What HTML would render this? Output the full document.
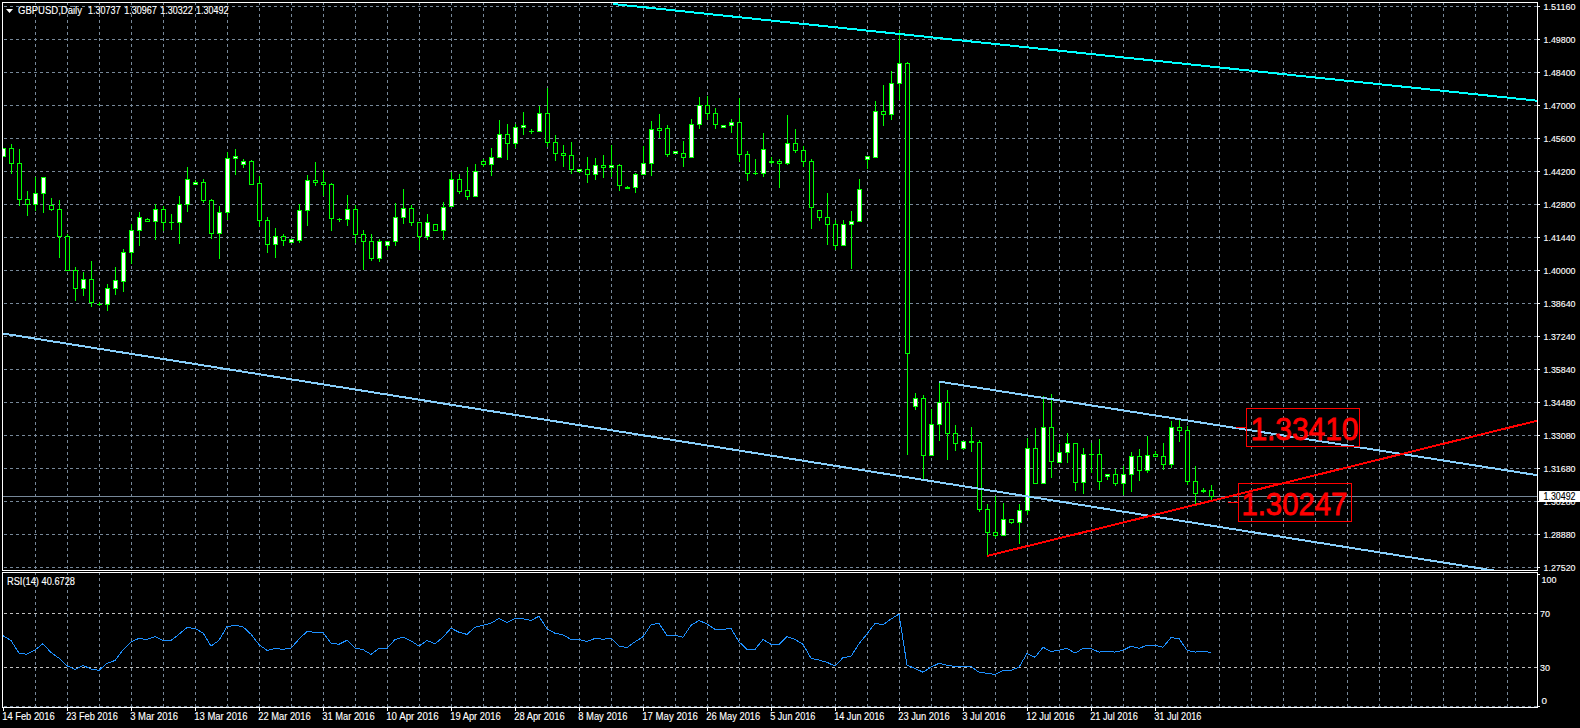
<!DOCTYPE html><html><head><meta charset="utf-8"><style>html,body{margin:0;padding:0;background:#000;width:1580px;height:728px;overflow:hidden}svg{display:block;position:absolute;left:0;top:0}text{font-family:"Liberation Sans",sans-serif;fill:#fff;stroke:#fff;stroke-width:0.12px}</style></head><body>
<svg width="1580" height="728" viewBox="0 0 1580 728" shape-rendering="crispEdges">
<rect x="0" y="0" width="1580" height="728" fill="#000"/>
<defs><clipPath id="cm"><rect x="3" y="3" width="1534" height="567"/></clipPath><clipPath id="cr"><rect x="3" y="573" width="1534" height="134"/></clipPath></defs>
<path d="M35.5 2V570 M67.5 2V570 M99.5 2V570 M131.5 2V570 M163.5 2V570 M195.5 2V570 M227.5 2V570 M259.5 2V570 M291.5 2V570 M323.5 2V570 M355.5 2V570 M387.5 2V570 M419.5 2V570 M451.5 2V570 M483.5 2V570 M515.5 2V570 M547.5 2V570 M579.5 2V570 M611.5 2V570 M643.5 2V570 M675.5 2V570 M707.5 2V570 M739.5 2V570 M771.5 2V570 M803.5 2V570 M835.5 2V570 M867.5 2V570 M899.5 2V570 M931.5 2V570 M963.5 2V570 M995.5 2V570 M1027.5 2V570 M1059.5 2V570 M1091.5 2V570 M1123.5 2V570 M1155.5 2V570 M1187.5 2V570 M1219.5 2V570 M1251.5 2V570 M1283.5 2V570 M1315.5 2V570 M1347.5 2V570 M1379.5 2V570 M1411.5 2V570 M1443.5 2V570 M1475.5 2V570 M1507.5 2V570 M4 6.5H1537 M4 39.5H1537 M4 72.5H1537 M4 105.5H1537 M4 138.5H1537 M4 171.5H1537 M4 204.5H1537 M4 237.5H1537 M4 270.5H1537 M4 303.5H1537 M4 336.5H1537 M4 369.5H1537 M4 402.5H1537 M4 435.5H1537 M4 468.5H1537 M4 501.5H1537 M4 534.5H1537 M4 567.5H1537" stroke="#778899" stroke-width="1" stroke-dasharray="3 3" fill="none"/>
<path d="M35.5 572V707 M67.5 572V707 M99.5 572V707 M131.5 572V707 M163.5 572V707 M195.5 572V707 M227.5 572V707 M259.5 572V707 M291.5 572V707 M323.5 572V707 M355.5 572V707 M387.5 572V707 M419.5 572V707 M451.5 572V707 M483.5 572V707 M515.5 572V707 M547.5 572V707 M579.5 572V707 M611.5 572V707 M643.5 572V707 M675.5 572V707 M707.5 572V707 M739.5 572V707 M771.5 572V707 M803.5 572V707 M835.5 572V707 M867.5 572V707 M899.5 572V707 M931.5 572V707 M963.5 572V707 M995.5 572V707 M1027.5 572V707 M1059.5 572V707 M1091.5 572V707 M1123.5 572V707 M1155.5 572V707 M1187.5 572V707 M1219.5 572V707 M1251.5 572V707 M1283.5 572V707 M1315.5 572V707 M1347.5 572V707 M1379.5 572V707 M1411.5 572V707 M1443.5 572V707 M1475.5 572V707 M1507.5 572V707 M4 706.5H1537" stroke="#778899" stroke-width="1" stroke-dasharray="3 3" fill="none"/>
<path d="M4 613.5H1537M4 667.5H1537" stroke="#c0c0c0" stroke-width="1" stroke-dasharray="3 3" fill="none"/>
<rect x="3" y="496" width="1534" height="1" fill="#778899"/>
<g clip-path="url(#cm)"><rect x="3" y="148" width="1" height="9" fill="#00ff00"/><rect x="1" y="148" width="5" height="9" fill="#00ff00"/><rect x="2" y="149" width="3" height="7" fill="#fff"/><rect x="11" y="144" width="1" height="30" fill="#00ff00"/><rect x="9" y="148" width="5" height="16" fill="#00ff00"/><rect x="10" y="149" width="3" height="14" fill="#000"/><rect x="19" y="149" width="1" height="57" fill="#00ff00"/><rect x="17" y="163" width="5" height="37" fill="#00ff00"/><rect x="18" y="164" width="3" height="35" fill="#000"/><rect x="27" y="191" width="1" height="25" fill="#00ff00"/><rect x="25" y="199" width="5" height="6" fill="#00ff00"/><rect x="26" y="200" width="3" height="4" fill="#000"/><rect x="35" y="177" width="1" height="34" fill="#00ff00"/><rect x="33" y="193" width="5" height="12" fill="#00ff00"/><rect x="34" y="194" width="3" height="10" fill="#fff"/><rect x="43" y="177" width="1" height="36" fill="#00ff00"/><rect x="41" y="177" width="5" height="17" fill="#00ff00"/><rect x="42" y="178" width="3" height="15" fill="#fff"/><rect x="51" y="198" width="1" height="13" fill="#00ff00"/><rect x="49" y="205" width="5" height="5" fill="#00ff00"/><rect x="50" y="206" width="3" height="3" fill="#000"/><rect x="59" y="200" width="1" height="58" fill="#00ff00"/><rect x="57" y="209" width="5" height="28" fill="#00ff00"/><rect x="58" y="210" width="3" height="26" fill="#000"/><rect x="67" y="234" width="1" height="37" fill="#00ff00"/><rect x="65" y="236" width="5" height="35" fill="#00ff00"/><rect x="66" y="237" width="3" height="33" fill="#000"/><rect x="75" y="267" width="1" height="34" fill="#00ff00"/><rect x="73" y="270" width="5" height="19" fill="#00ff00"/><rect x="74" y="271" width="3" height="17" fill="#000"/><rect x="83" y="272" width="1" height="24" fill="#00ff00"/><rect x="81" y="279" width="5" height="10" fill="#00ff00"/><rect x="82" y="280" width="3" height="8" fill="#fff"/><rect x="91" y="261" width="1" height="46" fill="#00ff00"/><rect x="89" y="279" width="5" height="24" fill="#00ff00"/><rect x="90" y="280" width="3" height="22" fill="#000"/><rect x="99" y="302" width="1" height="4" fill="#00ff00"/><rect x="97" y="304" width="5" height="1" fill="#00ff00"/><rect x="107" y="284" width="1" height="27" fill="#00ff00"/><rect x="105" y="288" width="5" height="17" fill="#00ff00"/><rect x="106" y="289" width="3" height="15" fill="#fff"/><rect x="115" y="267" width="1" height="28" fill="#00ff00"/><rect x="113" y="280" width="5" height="9" fill="#00ff00"/><rect x="114" y="281" width="3" height="7" fill="#fff"/><rect x="123" y="249" width="1" height="43" fill="#00ff00"/><rect x="121" y="252" width="5" height="30" fill="#00ff00"/><rect x="122" y="253" width="3" height="28" fill="#fff"/><rect x="131" y="224" width="1" height="40" fill="#00ff00"/><rect x="129" y="230" width="5" height="23" fill="#00ff00"/><rect x="130" y="231" width="3" height="21" fill="#fff"/><rect x="139" y="212" width="1" height="34" fill="#00ff00"/><rect x="137" y="217" width="5" height="14" fill="#00ff00"/><rect x="138" y="218" width="3" height="12" fill="#fff"/><rect x="147" y="218" width="1" height="4" fill="#00ff00"/><rect x="145" y="219" width="5" height="3" fill="#00ff00"/><rect x="146" y="220" width="3" height="1" fill="#000"/><rect x="155" y="204" width="1" height="36" fill="#00ff00"/><rect x="153" y="209" width="5" height="13" fill="#00ff00"/><rect x="154" y="210" width="3" height="11" fill="#fff"/><rect x="163" y="206" width="1" height="25" fill="#00ff00"/><rect x="161" y="209" width="5" height="14" fill="#00ff00"/><rect x="162" y="210" width="3" height="12" fill="#000"/><rect x="171" y="214" width="1" height="16" fill="#00ff00"/><rect x="169" y="222" width="5" height="1" fill="#00ff00"/><rect x="179" y="196" width="1" height="48" fill="#00ff00"/><rect x="177" y="204" width="5" height="19" fill="#00ff00"/><rect x="178" y="205" width="3" height="17" fill="#fff"/><rect x="187" y="167" width="1" height="45" fill="#00ff00"/><rect x="185" y="179" width="5" height="26" fill="#00ff00"/><rect x="186" y="180" width="3" height="24" fill="#fff"/><rect x="195" y="180" width="1" height="5" fill="#00ff00"/><rect x="193" y="182" width="5" height="3" fill="#00ff00"/><rect x="194" y="183" width="3" height="1" fill="#fff"/><rect x="203" y="179" width="1" height="24" fill="#00ff00"/><rect x="201" y="182" width="5" height="19" fill="#00ff00"/><rect x="202" y="183" width="3" height="17" fill="#000"/><rect x="211" y="199" width="1" height="40" fill="#00ff00"/><rect x="209" y="200" width="5" height="34" fill="#00ff00"/><rect x="210" y="201" width="3" height="32" fill="#000"/><rect x="219" y="206" width="1" height="53" fill="#00ff00"/><rect x="217" y="212" width="5" height="22" fill="#00ff00"/><rect x="218" y="213" width="3" height="20" fill="#fff"/><rect x="227" y="152" width="1" height="68" fill="#00ff00"/><rect x="225" y="158" width="5" height="55" fill="#00ff00"/><rect x="226" y="159" width="3" height="53" fill="#fff"/><rect x="235" y="149" width="1" height="26" fill="#00ff00"/><rect x="233" y="156" width="5" height="3" fill="#00ff00"/><rect x="234" y="157" width="3" height="1" fill="#fff"/><rect x="243" y="159" width="1" height="9" fill="#00ff00"/><rect x="241" y="161" width="5" height="4" fill="#00ff00"/><rect x="242" y="162" width="3" height="2" fill="#fff"/><rect x="251" y="160" width="1" height="25" fill="#00ff00"/><rect x="249" y="161" width="5" height="24" fill="#00ff00"/><rect x="250" y="162" width="3" height="22" fill="#000"/><rect x="259" y="176" width="1" height="51" fill="#00ff00"/><rect x="257" y="183" width="5" height="38" fill="#00ff00"/><rect x="258" y="184" width="3" height="36" fill="#000"/><rect x="267" y="217" width="1" height="36" fill="#00ff00"/><rect x="265" y="220" width="5" height="25" fill="#00ff00"/><rect x="266" y="221" width="3" height="23" fill="#000"/><rect x="275" y="228" width="1" height="30" fill="#00ff00"/><rect x="273" y="236" width="5" height="9" fill="#00ff00"/><rect x="274" y="237" width="3" height="7" fill="#fff"/><rect x="283" y="234" width="1" height="12" fill="#00ff00"/><rect x="281" y="236" width="5" height="5" fill="#00ff00"/><rect x="282" y="237" width="3" height="3" fill="#000"/><rect x="291" y="239" width="1" height="4" fill="#00ff00"/><rect x="289" y="239" width="5" height="4" fill="#00ff00"/><rect x="290" y="240" width="3" height="2" fill="#fff"/><rect x="299" y="204" width="1" height="39" fill="#00ff00"/><rect x="297" y="210" width="5" height="31" fill="#00ff00"/><rect x="298" y="211" width="3" height="29" fill="#fff"/><rect x="307" y="175" width="1" height="51" fill="#00ff00"/><rect x="305" y="180" width="5" height="31" fill="#00ff00"/><rect x="306" y="181" width="3" height="29" fill="#fff"/><rect x="315" y="162" width="1" height="24" fill="#00ff00"/><rect x="313" y="180" width="5" height="3" fill="#00ff00"/><rect x="314" y="181" width="3" height="1" fill="#000"/><rect x="323" y="170" width="1" height="26" fill="#00ff00"/><rect x="321" y="182" width="5" height="3" fill="#00ff00"/><rect x="322" y="183" width="3" height="1" fill="#000"/><rect x="331" y="183" width="1" height="48" fill="#00ff00"/><rect x="329" y="184" width="5" height="35" fill="#00ff00"/><rect x="330" y="185" width="3" height="33" fill="#000"/><rect x="339" y="218" width="1" height="4" fill="#00ff00"/><rect x="337" y="219" width="5" height="1" fill="#00ff00"/><rect x="347" y="195" width="1" height="31" fill="#00ff00"/><rect x="345" y="209" width="5" height="11" fill="#00ff00"/><rect x="346" y="210" width="3" height="9" fill="#fff"/><rect x="355" y="205" width="1" height="38" fill="#00ff00"/><rect x="353" y="209" width="5" height="26" fill="#00ff00"/><rect x="354" y="210" width="3" height="24" fill="#000"/><rect x="363" y="230" width="1" height="40" fill="#00ff00"/><rect x="361" y="234" width="5" height="8" fill="#00ff00"/><rect x="362" y="235" width="3" height="6" fill="#000"/><rect x="371" y="234" width="1" height="27" fill="#00ff00"/><rect x="369" y="241" width="5" height="18" fill="#00ff00"/><rect x="370" y="242" width="3" height="16" fill="#000"/><rect x="379" y="239" width="1" height="23" fill="#00ff00"/><rect x="377" y="241" width="5" height="18" fill="#00ff00"/><rect x="378" y="242" width="3" height="16" fill="#fff"/><rect x="387" y="241" width="1" height="9" fill="#00ff00"/><rect x="385" y="241" width="5" height="5" fill="#00ff00"/><rect x="386" y="242" width="3" height="3" fill="#fff"/><rect x="395" y="203" width="1" height="43" fill="#00ff00"/><rect x="393" y="217" width="5" height="25" fill="#00ff00"/><rect x="394" y="218" width="3" height="23" fill="#fff"/><rect x="403" y="189" width="1" height="35" fill="#00ff00"/><rect x="401" y="208" width="5" height="10" fill="#00ff00"/><rect x="402" y="209" width="3" height="8" fill="#fff"/><rect x="411" y="205" width="1" height="21" fill="#00ff00"/><rect x="409" y="208" width="5" height="15" fill="#00ff00"/><rect x="410" y="209" width="3" height="13" fill="#000"/><rect x="419" y="222" width="1" height="28" fill="#00ff00"/><rect x="417" y="222" width="5" height="15" fill="#00ff00"/><rect x="418" y="223" width="3" height="13" fill="#000"/><rect x="427" y="214" width="1" height="26" fill="#00ff00"/><rect x="425" y="222" width="5" height="15" fill="#00ff00"/><rect x="426" y="223" width="3" height="13" fill="#fff"/><rect x="435" y="224" width="1" height="7" fill="#00ff00"/><rect x="433" y="224" width="5" height="7" fill="#00ff00"/><rect x="434" y="225" width="3" height="5" fill="#000"/><rect x="443" y="202" width="1" height="38" fill="#00ff00"/><rect x="441" y="207" width="5" height="24" fill="#00ff00"/><rect x="442" y="208" width="3" height="22" fill="#fff"/><rect x="451" y="172" width="1" height="35" fill="#00ff00"/><rect x="449" y="179" width="5" height="28" fill="#00ff00"/><rect x="450" y="180" width="3" height="26" fill="#fff"/><rect x="459" y="174" width="1" height="20" fill="#00ff00"/><rect x="457" y="179" width="5" height="13" fill="#00ff00"/><rect x="458" y="180" width="3" height="11" fill="#000"/><rect x="467" y="167" width="1" height="33" fill="#00ff00"/><rect x="465" y="190" width="5" height="7" fill="#00ff00"/><rect x="466" y="191" width="3" height="5" fill="#000"/><rect x="475" y="164" width="1" height="33" fill="#00ff00"/><rect x="473" y="171" width="5" height="26" fill="#00ff00"/><rect x="474" y="172" width="3" height="24" fill="#fff"/><rect x="483" y="159" width="1" height="8" fill="#00ff00"/><rect x="481" y="161" width="5" height="4" fill="#00ff00"/><rect x="482" y="162" width="3" height="2" fill="#000"/><rect x="491" y="148" width="1" height="28" fill="#00ff00"/><rect x="489" y="157" width="5" height="8" fill="#00ff00"/><rect x="490" y="158" width="3" height="6" fill="#fff"/><rect x="499" y="120" width="1" height="38" fill="#00ff00"/><rect x="497" y="134" width="5" height="24" fill="#00ff00"/><rect x="498" y="135" width="3" height="22" fill="#fff"/><rect x="507" y="124" width="1" height="36" fill="#00ff00"/><rect x="505" y="134" width="5" height="10" fill="#00ff00"/><rect x="506" y="135" width="3" height="8" fill="#000"/><rect x="515" y="124" width="1" height="24" fill="#00ff00"/><rect x="513" y="127" width="5" height="17" fill="#00ff00"/><rect x="514" y="128" width="3" height="15" fill="#fff"/><rect x="523" y="112" width="1" height="23" fill="#00ff00"/><rect x="521" y="125" width="5" height="3" fill="#00ff00"/><rect x="522" y="126" width="3" height="1" fill="#fff"/><rect x="531" y="129" width="1" height="5" fill="#00ff00"/><rect x="529" y="131" width="5" height="1" fill="#00ff00"/><rect x="539" y="106" width="1" height="26" fill="#00ff00"/><rect x="537" y="113" width="5" height="19" fill="#00ff00"/><rect x="538" y="114" width="3" height="17" fill="#fff"/><rect x="547" y="88" width="1" height="59" fill="#00ff00"/><rect x="545" y="113" width="5" height="30" fill="#00ff00"/><rect x="546" y="114" width="3" height="28" fill="#000"/><rect x="555" y="135" width="1" height="26" fill="#00ff00"/><rect x="553" y="142" width="5" height="12" fill="#00ff00"/><rect x="554" y="143" width="3" height="10" fill="#000"/><rect x="563" y="145" width="1" height="22" fill="#00ff00"/><rect x="561" y="153" width="5" height="3" fill="#00ff00"/><rect x="562" y="154" width="3" height="1" fill="#000"/><rect x="571" y="142" width="1" height="32" fill="#00ff00"/><rect x="569" y="155" width="5" height="15" fill="#00ff00"/><rect x="570" y="156" width="3" height="13" fill="#000"/><rect x="579" y="169" width="1" height="4" fill="#00ff00"/><rect x="577" y="169" width="5" height="3" fill="#00ff00"/><rect x="578" y="170" width="3" height="1" fill="#fff"/><rect x="587" y="157" width="1" height="26" fill="#00ff00"/><rect x="585" y="169" width="5" height="6" fill="#00ff00"/><rect x="586" y="170" width="3" height="4" fill="#000"/><rect x="595" y="158" width="1" height="22" fill="#00ff00"/><rect x="593" y="165" width="5" height="10" fill="#00ff00"/><rect x="594" y="166" width="3" height="8" fill="#fff"/><rect x="603" y="155" width="1" height="23" fill="#00ff00"/><rect x="601" y="165" width="5" height="3" fill="#00ff00"/><rect x="602" y="166" width="3" height="1" fill="#000"/><rect x="611" y="145" width="1" height="32" fill="#00ff00"/><rect x="609" y="165" width="5" height="3" fill="#00ff00"/><rect x="610" y="166" width="3" height="1" fill="#fff"/><rect x="619" y="164" width="1" height="27" fill="#00ff00"/><rect x="617" y="165" width="5" height="21" fill="#00ff00"/><rect x="618" y="166" width="3" height="19" fill="#000"/><rect x="627" y="186" width="1" height="3" fill="#00ff00"/><rect x="625" y="187" width="5" height="2" fill="#00ff00"/><rect x="635" y="173" width="1" height="20" fill="#00ff00"/><rect x="633" y="174" width="5" height="14" fill="#00ff00"/><rect x="634" y="175" width="3" height="12" fill="#fff"/><rect x="643" y="146" width="1" height="29" fill="#00ff00"/><rect x="641" y="163" width="5" height="12" fill="#00ff00"/><rect x="642" y="164" width="3" height="10" fill="#fff"/><rect x="651" y="121" width="1" height="55" fill="#00ff00"/><rect x="649" y="129" width="5" height="35" fill="#00ff00"/><rect x="650" y="130" width="3" height="33" fill="#fff"/><rect x="659" y="114" width="1" height="24" fill="#00ff00"/><rect x="657" y="128" width="5" height="3" fill="#00ff00"/><rect x="658" y="129" width="3" height="1" fill="#000"/><rect x="667" y="125" width="1" height="32" fill="#00ff00"/><rect x="665" y="128" width="5" height="27" fill="#00ff00"/><rect x="666" y="129" width="3" height="25" fill="#000"/><rect x="675" y="151" width="1" height="3" fill="#00ff00"/><rect x="673" y="151" width="5" height="3" fill="#00ff00"/><rect x="674" y="152" width="3" height="1" fill="#fff"/><rect x="683" y="141" width="1" height="26" fill="#00ff00"/><rect x="681" y="153" width="5" height="5" fill="#00ff00"/><rect x="682" y="154" width="3" height="3" fill="#000"/><rect x="691" y="119" width="1" height="39" fill="#00ff00"/><rect x="689" y="124" width="5" height="34" fill="#00ff00"/><rect x="690" y="125" width="3" height="32" fill="#fff"/><rect x="699" y="97" width="1" height="32" fill="#00ff00"/><rect x="697" y="105" width="5" height="20" fill="#00ff00"/><rect x="698" y="106" width="3" height="18" fill="#fff"/><rect x="707" y="96" width="1" height="24" fill="#00ff00"/><rect x="705" y="105" width="5" height="9" fill="#00ff00"/><rect x="706" y="106" width="3" height="7" fill="#000"/><rect x="715" y="108" width="1" height="21" fill="#00ff00"/><rect x="713" y="113" width="5" height="12" fill="#00ff00"/><rect x="714" y="114" width="3" height="10" fill="#000"/><rect x="723" y="125" width="1" height="3" fill="#00ff00"/><rect x="721" y="125" width="5" height="3" fill="#00ff00"/><rect x="722" y="126" width="3" height="1" fill="#fff"/><rect x="731" y="119" width="1" height="14" fill="#00ff00"/><rect x="729" y="122" width="5" height="4" fill="#00ff00"/><rect x="730" y="123" width="3" height="2" fill="#fff"/><rect x="739" y="98" width="1" height="64" fill="#00ff00"/><rect x="737" y="122" width="5" height="33" fill="#00ff00"/><rect x="738" y="123" width="3" height="31" fill="#000"/><rect x="747" y="151" width="1" height="30" fill="#00ff00"/><rect x="745" y="154" width="5" height="20" fill="#00ff00"/><rect x="746" y="155" width="3" height="18" fill="#000"/><rect x="755" y="159" width="1" height="16" fill="#00ff00"/><rect x="753" y="173" width="5" height="1" fill="#00ff00"/><rect x="763" y="133" width="1" height="44" fill="#00ff00"/><rect x="761" y="149" width="5" height="25" fill="#00ff00"/><rect x="762" y="150" width="3" height="23" fill="#fff"/><rect x="771" y="157" width="1" height="7" fill="#00ff00"/><rect x="769" y="161" width="5" height="2" fill="#00ff00"/><rect x="779" y="159" width="1" height="29" fill="#00ff00"/><rect x="777" y="161" width="5" height="3" fill="#00ff00"/><rect x="778" y="162" width="3" height="1" fill="#000"/><rect x="787" y="115" width="1" height="50" fill="#00ff00"/><rect x="785" y="143" width="5" height="21" fill="#00ff00"/><rect x="786" y="144" width="3" height="19" fill="#fff"/><rect x="795" y="129" width="1" height="24" fill="#00ff00"/><rect x="793" y="143" width="5" height="8" fill="#00ff00"/><rect x="794" y="144" width="3" height="6" fill="#000"/><rect x="803" y="146" width="1" height="21" fill="#00ff00"/><rect x="801" y="150" width="5" height="12" fill="#00ff00"/><rect x="802" y="151" width="3" height="10" fill="#000"/><rect x="811" y="159" width="1" height="70" fill="#00ff00"/><rect x="809" y="161" width="5" height="47" fill="#00ff00"/><rect x="810" y="162" width="3" height="45" fill="#000"/><rect x="819" y="210" width="1" height="11" fill="#00ff00"/><rect x="817" y="210" width="5" height="8" fill="#00ff00"/><rect x="818" y="211" width="3" height="6" fill="#000"/><rect x="827" y="193" width="1" height="52" fill="#00ff00"/><rect x="825" y="217" width="5" height="8" fill="#00ff00"/><rect x="826" y="218" width="3" height="6" fill="#000"/><rect x="835" y="220" width="1" height="30" fill="#00ff00"/><rect x="833" y="224" width="5" height="22" fill="#00ff00"/><rect x="834" y="225" width="3" height="20" fill="#000"/><rect x="843" y="220" width="1" height="26" fill="#00ff00"/><rect x="841" y="224" width="5" height="22" fill="#00ff00"/><rect x="842" y="225" width="3" height="20" fill="#fff"/><rect x="851" y="211" width="1" height="58" fill="#00ff00"/><rect x="849" y="221" width="5" height="4" fill="#00ff00"/><rect x="850" y="222" width="3" height="2" fill="#fff"/><rect x="859" y="179" width="1" height="43" fill="#00ff00"/><rect x="857" y="189" width="5" height="33" fill="#00ff00"/><rect x="858" y="190" width="3" height="31" fill="#fff"/><rect x="867" y="156" width="1" height="13" fill="#00ff00"/><rect x="865" y="156" width="5" height="4" fill="#00ff00"/><rect x="866" y="157" width="3" height="2" fill="#fff"/><rect x="875" y="101" width="1" height="57" fill="#00ff00"/><rect x="873" y="111" width="5" height="47" fill="#00ff00"/><rect x="874" y="112" width="3" height="45" fill="#fff"/><rect x="883" y="85" width="1" height="41" fill="#00ff00"/><rect x="881" y="111" width="5" height="4" fill="#00ff00"/><rect x="882" y="112" width="3" height="2" fill="#000"/><rect x="891" y="71" width="1" height="49" fill="#00ff00"/><rect x="889" y="83" width="5" height="32" fill="#00ff00"/><rect x="890" y="84" width="3" height="30" fill="#fff"/><rect x="899" y="30" width="1" height="70" fill="#00ff00"/><rect x="897" y="63" width="5" height="21" fill="#00ff00"/><rect x="898" y="64" width="3" height="19" fill="#fff"/><rect x="907" y="62" width="1" height="393" fill="#00ff00"/><rect x="905" y="63" width="5" height="291" fill="#00ff00"/><rect x="906" y="64" width="3" height="289" fill="#000"/><rect x="915" y="393" width="1" height="17" fill="#00ff00"/><rect x="913" y="398" width="5" height="9" fill="#00ff00"/><rect x="914" y="399" width="3" height="7" fill="#fff"/><rect x="923" y="395" width="1" height="84" fill="#00ff00"/><rect x="921" y="398" width="5" height="58" fill="#00ff00"/><rect x="922" y="399" width="3" height="56" fill="#000"/><rect x="931" y="409" width="1" height="47" fill="#00ff00"/><rect x="929" y="424" width="5" height="32" fill="#00ff00"/><rect x="930" y="425" width="3" height="30" fill="#fff"/><rect x="939" y="381" width="1" height="60" fill="#00ff00"/><rect x="937" y="402" width="5" height="23" fill="#00ff00"/><rect x="938" y="403" width="3" height="21" fill="#fff"/><rect x="947" y="390" width="1" height="70" fill="#00ff00"/><rect x="945" y="402" width="5" height="32" fill="#00ff00"/><rect x="946" y="403" width="3" height="30" fill="#000"/><rect x="955" y="425" width="1" height="26" fill="#00ff00"/><rect x="953" y="433" width="5" height="11" fill="#00ff00"/><rect x="954" y="434" width="3" height="9" fill="#000"/><rect x="963" y="441" width="1" height="9" fill="#00ff00"/><rect x="961" y="441" width="5" height="8" fill="#00ff00"/><rect x="962" y="442" width="3" height="6" fill="#fff"/><rect x="971" y="427" width="1" height="25" fill="#00ff00"/><rect x="969" y="441" width="5" height="2" fill="#00ff00"/><rect x="979" y="440" width="1" height="72" fill="#00ff00"/><rect x="977" y="442" width="5" height="68" fill="#00ff00"/><rect x="978" y="443" width="3" height="66" fill="#000"/><rect x="987" y="504" width="1" height="52" fill="#00ff00"/><rect x="985" y="509" width="5" height="24" fill="#00ff00"/><rect x="986" y="510" width="3" height="22" fill="#000"/><rect x="995" y="496" width="1" height="42" fill="#00ff00"/><rect x="993" y="532" width="5" height="4" fill="#00ff00"/><rect x="994" y="533" width="3" height="2" fill="#000"/><rect x="1003" y="503" width="1" height="33" fill="#00ff00"/><rect x="1001" y="519" width="5" height="17" fill="#00ff00"/><rect x="1002" y="520" width="3" height="15" fill="#fff"/><rect x="1011" y="519" width="1" height="5" fill="#00ff00"/><rect x="1009" y="519" width="5" height="4" fill="#00ff00"/><rect x="1010" y="520" width="3" height="2" fill="#000"/><rect x="1019" y="504" width="1" height="40" fill="#00ff00"/><rect x="1017" y="510" width="5" height="13" fill="#00ff00"/><rect x="1018" y="511" width="3" height="11" fill="#fff"/><rect x="1027" y="438" width="1" height="77" fill="#00ff00"/><rect x="1025" y="448" width="5" height="63" fill="#00ff00"/><rect x="1026" y="449" width="3" height="61" fill="#fff"/><rect x="1035" y="428" width="1" height="56" fill="#00ff00"/><rect x="1033" y="448" width="5" height="36" fill="#00ff00"/><rect x="1034" y="449" width="3" height="34" fill="#000"/><rect x="1043" y="396" width="1" height="88" fill="#00ff00"/><rect x="1041" y="427" width="5" height="57" fill="#00ff00"/><rect x="1042" y="428" width="3" height="55" fill="#fff"/><rect x="1051" y="394" width="1" height="84" fill="#00ff00"/><rect x="1049" y="427" width="5" height="35" fill="#00ff00"/><rect x="1050" y="428" width="3" height="33" fill="#000"/><rect x="1059" y="444" width="1" height="19" fill="#00ff00"/><rect x="1057" y="452" width="5" height="11" fill="#00ff00"/><rect x="1058" y="453" width="3" height="9" fill="#fff"/><rect x="1067" y="433" width="1" height="30" fill="#00ff00"/><rect x="1065" y="443" width="5" height="10" fill="#00ff00"/><rect x="1066" y="444" width="3" height="8" fill="#fff"/><rect x="1075" y="443" width="1" height="48" fill="#00ff00"/><rect x="1073" y="443" width="5" height="40" fill="#00ff00"/><rect x="1074" y="444" width="3" height="38" fill="#000"/><rect x="1083" y="448" width="1" height="46" fill="#00ff00"/><rect x="1081" y="454" width="5" height="29" fill="#00ff00"/><rect x="1082" y="455" width="3" height="27" fill="#fff"/><rect x="1091" y="443" width="1" height="30" fill="#00ff00"/><rect x="1089" y="454" width="5" height="1" fill="#00ff00"/><rect x="1099" y="439" width="1" height="51" fill="#00ff00"/><rect x="1097" y="454" width="5" height="28" fill="#00ff00"/><rect x="1098" y="455" width="3" height="26" fill="#000"/><rect x="1107" y="474" width="1" height="6" fill="#00ff00"/><rect x="1105" y="474" width="5" height="3" fill="#00ff00"/><rect x="1106" y="475" width="3" height="1" fill="#fff"/><rect x="1115" y="469" width="1" height="17" fill="#00ff00"/><rect x="1113" y="474" width="5" height="10" fill="#00ff00"/><rect x="1114" y="475" width="3" height="8" fill="#000"/><rect x="1123" y="466" width="1" height="29" fill="#00ff00"/><rect x="1121" y="474" width="5" height="10" fill="#00ff00"/><rect x="1122" y="475" width="3" height="8" fill="#fff"/><rect x="1131" y="452" width="1" height="40" fill="#00ff00"/><rect x="1129" y="456" width="5" height="19" fill="#00ff00"/><rect x="1130" y="457" width="3" height="17" fill="#fff"/><rect x="1139" y="449" width="1" height="32" fill="#00ff00"/><rect x="1137" y="456" width="5" height="15" fill="#00ff00"/><rect x="1138" y="457" width="3" height="13" fill="#000"/><rect x="1147" y="436" width="1" height="37" fill="#00ff00"/><rect x="1145" y="455" width="5" height="16" fill="#00ff00"/><rect x="1146" y="456" width="3" height="14" fill="#fff"/><rect x="1155" y="451" width="1" height="6" fill="#00ff00"/><rect x="1153" y="454" width="5" height="3" fill="#00ff00"/><rect x="1154" y="455" width="3" height="1" fill="#000"/><rect x="1163" y="443" width="1" height="27" fill="#00ff00"/><rect x="1161" y="456" width="5" height="9" fill="#00ff00"/><rect x="1162" y="457" width="3" height="7" fill="#000"/><rect x="1171" y="421" width="1" height="47" fill="#00ff00"/><rect x="1169" y="427" width="5" height="38" fill="#00ff00"/><rect x="1170" y="428" width="3" height="36" fill="#fff"/><rect x="1179" y="420" width="1" height="22" fill="#00ff00"/><rect x="1177" y="427" width="5" height="4" fill="#00ff00"/><rect x="1178" y="428" width="3" height="2" fill="#000"/><rect x="1187" y="426" width="1" height="59" fill="#00ff00"/><rect x="1185" y="430" width="5" height="52" fill="#00ff00"/><rect x="1186" y="431" width="3" height="50" fill="#000"/><rect x="1195" y="466" width="1" height="38" fill="#00ff00"/><rect x="1193" y="481" width="5" height="13" fill="#00ff00"/><rect x="1194" y="482" width="3" height="11" fill="#000"/><rect x="1203" y="488" width="1" height="5" fill="#00ff00"/><rect x="1201" y="490" width="5" height="2" fill="#00ff00"/><rect x="1211" y="485" width="1" height="15" fill="#00ff00"/><rect x="1209" y="490" width="5" height="7" fill="#00ff00"/><rect x="1210" y="491" width="3" height="5" fill="#000"/></g>
<g clip-path="url(#cm)">
<line x1="613" y1="4" x2="1540" y2="101" stroke="#00ffff" stroke-width="2"/>
<line x1="3" y1="333.5" x2="1540" y2="577.9" stroke="#87cefa" stroke-width="2"/>
<line x1="939" y1="381.6" x2="1540" y2="475.6" stroke="#87cefa" stroke-width="2"/>
<line x1="987" y1="556" x2="1540" y2="420" stroke="#ff0000" stroke-width="2"/>
</g>
<g clip-path="url(#cr)"><polyline points="3,635.7 11,640.5 19,653.2 27,654.2 35,650.0 43,643.7 51,652.5 59,658.2 67,665.8 75,669.4 83,665.4 91,669.0 99,670.3 107,663.3 115,660.5 123,650.0 131,641.8 139,638.4 147,639.5 155,636.7 163,640.3 171,640.5 179,634.2 187,627.6 195,628.5 203,632.9 211,646.2 219,640.3 227,626.6 235,625.3 243,626.8 251,634.2 259,644.6 267,650.4 275,648.4 283,649.4 291,648.1 299,639.2 307,631.4 315,632.3 323,632.3 331,643.3 339,644.3 347,640.3 355,648.1 363,649.6 371,654.4 379,648.4 387,648.4 395,639.5 403,637.3 411,640.8 419,646.2 427,640.5 435,643.7 443,637.3 451,628.1 459,632.3 467,634.4 475,627.2 483,625.3 491,623.2 499,618.4 507,622.5 515,618.7 523,618.7 531,620.5 539,616.2 547,628.9 555,633.2 563,634.8 571,639.5 579,639.5 587,641.5 595,638.4 603,639.2 611,638.2 619,646.2 627,647.5 635,641.8 643,636.7 651,624.7 659,623.4 667,635.4 675,635.4 683,637.3 691,625.3 699,620.5 707,624.0 715,629.4 723,629.4 731,628.5 739,641.8 747,649.4 755,649.4 763,639.5 771,644.3 779,644.3 787,636.5 795,639.5 803,644.3 811,658.2 819,660.1 827,662.3 835,666.1 843,657.6 851,656.3 859,643.7 867,633.9 875,623.4 883,624.7 891,619.0 899,614.2 907,665.2 915,668.4 923,672.2 931,667.1 939,663.3 947,665.2 955,666.5 963,666.5 971,666.5 979,672.2 987,673.2 995,674.5 1003,670.6 1011,670.3 1019,667.2 1027,653.6 1035,657.2 1043,647.3 1051,651.4 1059,650.2 1067,648.3 1075,653.1 1083,648.5 1091,648.5 1099,652.1 1107,651.2 1115,652.1 1123,650.2 1131,646.3 1139,648.3 1147,645.4 1155,645.4 1163,647.3 1171,637.6 1179,638.6 1187,650.2 1195,652.1 1203,651.2 1211,652.4" fill="none" stroke="#1e90ff" stroke-width="1"/></g>
<path d="M2.5 2.5H1537.5V570.5H2.5Z M2.5 572.5H1537.5V707.5H2.5Z" stroke="#fff" stroke-width="1" fill="none"/>
<rect x="1538" y="6" width="2" height="1" fill="#fff"/><text x="1543.5" y="10" font-size="9.3" textLength="32" lengthAdjust="spacingAndGlyphs">1.51160</text><rect x="1538" y="39" width="2" height="1" fill="#fff"/><text x="1543.5" y="43" font-size="9.3" textLength="32" lengthAdjust="spacingAndGlyphs">1.49800</text><rect x="1538" y="72" width="2" height="1" fill="#fff"/><text x="1543.5" y="76" font-size="9.3" textLength="32" lengthAdjust="spacingAndGlyphs">1.48400</text><rect x="1538" y="105" width="2" height="1" fill="#fff"/><text x="1543.5" y="109" font-size="9.3" textLength="32" lengthAdjust="spacingAndGlyphs">1.47000</text><rect x="1538" y="138" width="2" height="1" fill="#fff"/><text x="1543.5" y="142" font-size="9.3" textLength="32" lengthAdjust="spacingAndGlyphs">1.45600</text><rect x="1538" y="171" width="2" height="1" fill="#fff"/><text x="1543.5" y="175" font-size="9.3" textLength="32" lengthAdjust="spacingAndGlyphs">1.44200</text><rect x="1538" y="204" width="2" height="1" fill="#fff"/><text x="1543.5" y="208" font-size="9.3" textLength="32" lengthAdjust="spacingAndGlyphs">1.42800</text><rect x="1538" y="237" width="2" height="1" fill="#fff"/><text x="1543.5" y="241" font-size="9.3" textLength="32" lengthAdjust="spacingAndGlyphs">1.41440</text><rect x="1538" y="270" width="2" height="1" fill="#fff"/><text x="1543.5" y="274" font-size="9.3" textLength="32" lengthAdjust="spacingAndGlyphs">1.40000</text><rect x="1538" y="303" width="2" height="1" fill="#fff"/><text x="1543.5" y="307" font-size="9.3" textLength="32" lengthAdjust="spacingAndGlyphs">1.38640</text><rect x="1538" y="336" width="2" height="1" fill="#fff"/><text x="1543.5" y="340" font-size="9.3" textLength="32" lengthAdjust="spacingAndGlyphs">1.37240</text><rect x="1538" y="369" width="2" height="1" fill="#fff"/><text x="1543.5" y="373" font-size="9.3" textLength="32" lengthAdjust="spacingAndGlyphs">1.35840</text><rect x="1538" y="402" width="2" height="1" fill="#fff"/><text x="1543.5" y="406" font-size="9.3" textLength="32" lengthAdjust="spacingAndGlyphs">1.34480</text><rect x="1538" y="435" width="2" height="1" fill="#fff"/><text x="1543.5" y="439" font-size="9.3" textLength="32" lengthAdjust="spacingAndGlyphs">1.33080</text><rect x="1538" y="468" width="2" height="1" fill="#fff"/><text x="1543.5" y="472" font-size="9.3" textLength="32" lengthAdjust="spacingAndGlyphs">1.31680</text><rect x="1538" y="501" width="2" height="1" fill="#fff"/><text x="1543.5" y="505" font-size="9.3" textLength="32" lengthAdjust="spacingAndGlyphs">1.30280</text><rect x="1538" y="534" width="2" height="1" fill="#fff"/><text x="1543.5" y="538" font-size="9.3" textLength="32" lengthAdjust="spacingAndGlyphs">1.28880</text><rect x="1538" y="567" width="2" height="1" fill="#fff"/><text x="1543.5" y="571" font-size="9.3" textLength="32" lengthAdjust="spacingAndGlyphs">1.27520</text>
<rect x="1539" y="491" width="41" height="11" fill="#fff"/>
<text x="1543.5" y="500" font-size="10" textLength="32" lengthAdjust="spacingAndGlyphs" style="fill:#000;stroke:#000">1.30492</text>
<rect x="1538" y="574" width="2" height="1" fill="#fff"/><rect x="1538" y="706" width="2" height="1" fill="#fff"/>
<text x="1541.5" y="583" font-size="9.5" textLength="15" lengthAdjust="spacingAndGlyphs">100</text>
<text x="1540" y="617" font-size="9.5" textLength="10" lengthAdjust="spacingAndGlyphs">70</text>
<text x="1540" y="671" font-size="9.5" textLength="10" lengthAdjust="spacingAndGlyphs">30</text>
<text x="1541.5" y="704" font-size="9.3" textLength="5.5" lengthAdjust="spacingAndGlyphs">0</text>
<rect x="3" y="708" width="1" height="3" fill="#fff"/><text x="2.2" y="720" font-size="10" textLength="52.5" lengthAdjust="spacingAndGlyphs">14 Feb 2016</text><rect x="67" y="708" width="1" height="3" fill="#fff"/><text x="66.2" y="720" font-size="10" textLength="51.6" lengthAdjust="spacingAndGlyphs">23 Feb 2016</text><rect x="131" y="708" width="1" height="3" fill="#fff"/><text x="130.2" y="720" font-size="10" textLength="47.9" lengthAdjust="spacingAndGlyphs">3 Mar 2016</text><rect x="195" y="708" width="1" height="3" fill="#fff"/><text x="194.2" y="720" font-size="10" textLength="53.3" lengthAdjust="spacingAndGlyphs">13 Mar 2016</text><rect x="259" y="708" width="1" height="3" fill="#fff"/><text x="258.2" y="720" font-size="10" textLength="52.5" lengthAdjust="spacingAndGlyphs">22 Mar 2016</text><rect x="323" y="708" width="1" height="3" fill="#fff"/><text x="322.2" y="720" font-size="10" textLength="52.5" lengthAdjust="spacingAndGlyphs">31 Mar 2016</text><rect x="387" y="708" width="1" height="3" fill="#fff"/><text x="386.2" y="720" font-size="10" textLength="52.4" lengthAdjust="spacingAndGlyphs">10 Apr 2016</text><rect x="451" y="708" width="1" height="3" fill="#fff"/><text x="450.2" y="720" font-size="10" textLength="50.4" lengthAdjust="spacingAndGlyphs">19 Apr 2016</text><rect x="515" y="708" width="1" height="3" fill="#fff"/><text x="514.2" y="720" font-size="10" textLength="50.4" lengthAdjust="spacingAndGlyphs">28 Apr 2016</text><rect x="579" y="708" width="1" height="3" fill="#fff"/><text x="578.2" y="720" font-size="10" textLength="49.2" lengthAdjust="spacingAndGlyphs">8 May 2016</text><rect x="643" y="708" width="1" height="3" fill="#fff"/><text x="642.2" y="720" font-size="10" textLength="55.7" lengthAdjust="spacingAndGlyphs">17 May 2016</text><rect x="707" y="708" width="1" height="3" fill="#fff"/><text x="706.2" y="720" font-size="10" textLength="54.1" lengthAdjust="spacingAndGlyphs">26 May 2016</text><rect x="771" y="708" width="1" height="3" fill="#fff"/><text x="770.2" y="720" font-size="10" textLength="45.2" lengthAdjust="spacingAndGlyphs">5 Jun 2016</text><rect x="835" y="708" width="1" height="3" fill="#fff"/><text x="834.2" y="720" font-size="10" textLength="50.2" lengthAdjust="spacingAndGlyphs">14 Jun 2016</text><rect x="899" y="708" width="1" height="3" fill="#fff"/><text x="898.2" y="720" font-size="10" textLength="51.5" lengthAdjust="spacingAndGlyphs">23 Jun 2016</text><rect x="963" y="708" width="1" height="3" fill="#fff"/><text x="962.2" y="720" font-size="10" textLength="43.2" lengthAdjust="spacingAndGlyphs">3 Jul 2016</text><rect x="1027" y="708" width="1" height="3" fill="#fff"/><text x="1026.2" y="720" font-size="10" textLength="48.4" lengthAdjust="spacingAndGlyphs">12 Jul 2016</text><rect x="1091" y="708" width="1" height="3" fill="#fff"/><text x="1090.2" y="720" font-size="10" textLength="47.7" lengthAdjust="spacingAndGlyphs">21 Jul 2016</text><rect x="1155" y="708" width="1" height="3" fill="#fff"/><text x="1154.2" y="720" font-size="10" textLength="47.2" lengthAdjust="spacingAndGlyphs">31 Jul 2016</text>
<polygon points="6,9 13,9 9.5,13" fill="#fff" shape-rendering="auto"/>
<text x="18" y="14" font-size="10" textLength="64" lengthAdjust="spacingAndGlyphs">GBPUSD,Daily</text>
<text x="88" y="14" font-size="10" textLength="32.5" lengthAdjust="spacingAndGlyphs">1.30737</text>
<text x="124.3" y="14" font-size="10" textLength="32.5" lengthAdjust="spacingAndGlyphs">1.30967</text>
<text x="160.3" y="14" font-size="10" textLength="32.5" lengthAdjust="spacingAndGlyphs">1.30322</text>
<text x="196" y="14" font-size="10" textLength="32.5" lengthAdjust="spacingAndGlyphs">1.30492</text>
<text x="7" y="585" font-size="10" textLength="68" lengthAdjust="spacingAndGlyphs">RSI(14) 40.6728</text>
<rect x="1246.5" y="408.5" width="113" height="38" fill="none" stroke="#f00" stroke-width="1"/>
<rect x="1236" y="427" width="10" height="1" fill="#f00"/>
<text x="1250.4" y="440" font-size="31.5" textLength="108" lengthAdjust="spacingAndGlyphs" style="fill:#f00;stroke:#f00;stroke-width:0.8">1.33410</text>
<rect x="1238.5" y="483.5" width="113" height="38" fill="none" stroke="#f00" stroke-width="1"/>
<rect x="1228" y="502" width="10" height="1" fill="#f00"/>
<text x="1241.4" y="515" font-size="31.5" textLength="106" lengthAdjust="spacingAndGlyphs" style="fill:#f00;stroke:#f00;stroke-width:0.8">1.30247</text>
</svg></body></html>
